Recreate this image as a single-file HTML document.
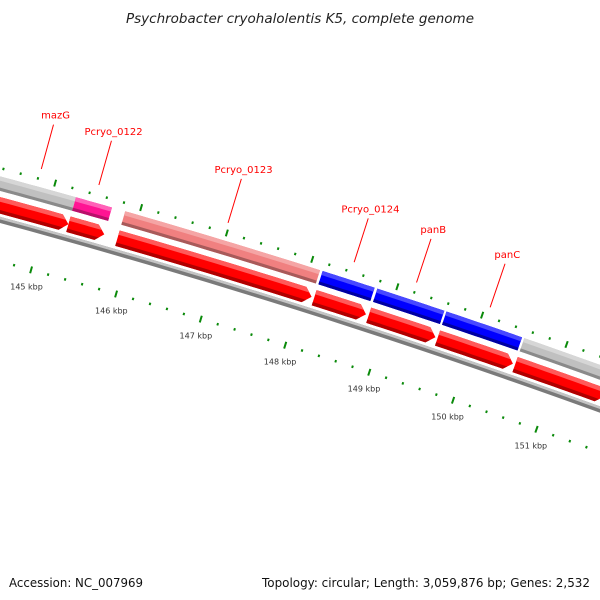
<!DOCTYPE html>
<html><head><meta charset="utf-8"><style>
html,body{margin:0;padding:0;background:#fff;}
svg{display:block;}
</style></head><body>
<svg id="map" width="600" height="600" viewBox="0 0 600 600" xmlns="http://www.w3.org/2000/svg">
<rect x="0" y="0" width="600" height="600" fill="#fff"/>
<text x="300" y="23" text-anchor="middle" font-family="DejaVu Sans, Liberation Sans, sans-serif" font-style="italic" font-size="13" fill="#222" textLength="348" lengthAdjust="spacingAndGlyphs">Psychrobacter cryohalolentis K5, complete genome</text>
<g id="plot"></g>
<text x="9" y="587" font-family="DejaVu Sans, Liberation Sans, sans-serif" font-size="12" fill="#111" textLength="134" lengthAdjust="spacingAndGlyphs">Accession: NC_007969</text>
<text x="590" y="587" text-anchor="end" font-family="DejaVu Sans, Liberation Sans, sans-serif" font-size="12" fill="#111" textLength="328" lengthAdjust="spacingAndGlyphs">Topology: circular; Length: 3,059,876 bp; Genes: 2,532</text>
</svg>
<script>
// ---- data ----
const geneStarts = [144350, 145267, 145840, 148150, 148794, 149609, 150530];
const geneEnds   = [145267, 145686, 148120, 148762, 149584, 150504, 151600];
const geneColors = ["gray", "pink", "salmon", "blue", "blue", "blue", "gray"];
const geneNames  = ["mazG", "Pcryo_0122", "Pcryo_0123", "Pcryo_0124", "panB", "panC", ""];
const tickKbp    = [143, 144, 145, 146, 147, 148, 149, 150, 151];
const tickLabels = ["143 kbp","144 kbp","145 kbp","146 kbp","147 kbp","148 kbp","149 kbp","150 kbp","151 kbp"];

// ---- geometry (axis functions) ----
const CX = -2002, CY = 7596, TH0 = 0.2707, KRAD = 0.01162e-3, BP0 = 145000;
function theta(bp){ return TH0 + (bp - BP0) * KRAD; }
function pt(r, th){ return [CX + r*Math.sin(th), CY - r*Math.cos(th)]; }
const R_BACK1 = 7640, R_BACK2 = 7646;
const R_CDS1 = 7649, R_CDS2 = 7665;
const R_GENE1 = 7671, R_GENE2 = 7685;
const R_TICK_UP = 7693, R_TICK_LO = 7603, R_TICK_LAB = 7586;
const R_LEAD1 = 7703, R_LEAD2 = 7749, R_LAB = 7753;
const PAL = {
  gray:   ["#c0c0c0", "#d6d6d6", "#8a8a8a"],
  pink:   ["#ff1493", "#ff62b8", "#b80f6a"],
  salmon: ["#f08080", "#f5a5a5", "#a85a5a"],
  blue:   ["#0000ff", "#4848ff", "#0000a0"],
  red:    ["#ff0000", "#ff5a5a", "#b00000"]
};
const NS = "http://www.w3.org/2000/svg";
const plot = document.getElementById("plot");
function mk(tag, attrs){ const e = document.createElementNS(NS, tag); for (const k in attrs) e.setAttribute(k, attrs[k]); return e; }
function arc(ra, rb, t1, t2, n){
  const pts = [];
  for (let i=0;i<=n;i++){ pts.push(pt(rb, t1 + (t2-t1)*i/n)); }
  for (let i=n;i>=0;i--){ pts.push(pt(ra, t1 + (t2-t1)*i/n)); }
  return pts.map(p=>p[0].toFixed(2)+","+p[1].toFixed(2)).join(" ");
}
function arrowStrip(ra, rb, R1, R2, t1, t2){
  const rm = (R1+R2)/2, half = (R2-R1)/2, head = 8/rm;
  const endAt = r => t2 - head*Math.abs(r-rm)/half;
  const n = 12, pts = [];
  for (let i=0;i<=n;i++) pts.push(pt(rb, t1 + (Math.min(endAt(rb),t2)-t1)*i/n));
  if (ra < rm && rb > rm) pts.push(pt(rm, t2));
  for (let i=n;i>=0;i--) pts.push(pt(ra, t1 + (Math.min(endAt(ra),t2)-t1)*i/n));
  return pts.map(p=>p[0].toFixed(2)+","+p[1].toFixed(2)).join(" ");
}

// backbone
const bt1 = theta(141000), bt2 = theta(155000);
let e = mk("polygon", {points: arc(R_BACK1, R_BACK2, bt1, bt2, 40), fill:"#7a7a7a"});


plot.appendChild(e);
e = mk("polygon", {points: arc(R_BACK2-2.5, R_BACK2, bt1, bt2, 40), fill:"#c4c4c4"});


plot.appendChild(e);

// genes and CDS arrows
for (let i=0;i<geneStarts.length;i++){
  const t1 = theta(geneStarts[i]), t2 = theta(geneEnds[i]);
  const c = PAL[geneColors[i]];
  const g = mk("g", {});
  
  
  const w = R_GENE2 - R_GENE1;
  g.appendChild(mk("polygon", {points: arc(R_GENE1, R_GENE2, t1, t2, 16), fill:c[0]}));
  g.appendChild(mk("polygon", {points: arc(R_GENE2 - w*0.3, R_GENE2, t1, t2, 16), fill:c[1]}));
  g.appendChild(mk("polygon", {points: arc(R_GENE1, R_GENE1 + w*0.22, t1, t2, 16), fill:c[2]}));
  plot.appendChild(g);

  const a = mk("g", {});
  
  
  const r = PAL.red, aw = R_CDS2 - R_CDS1;
  a.appendChild(mk("polygon", {points: arrowStrip(R_CDS1, R_CDS2, R_CDS1, R_CDS2, t1, t2), fill:r[0]}));
  a.appendChild(mk("polygon", {points: arrowStrip(R_CDS2 - aw*0.28, R_CDS2, R_CDS1, R_CDS2, t1, t2), fill:r[1]}));
  a.appendChild(mk("polygon", {points: arrowStrip(R_CDS1, R_CDS1 + aw*0.22, R_CDS1, R_CDS2, t1, t2), fill:r[2]}));
  plot.appendChild(a);

  if (geneNames[i]){
    const tm = theta((geneStarts[i]+geneEnds[i])/2);
    const p1 = pt(R_LEAD1, tm), p2 = pt(R_LEAD2, tm), pl = pt(R_LAB, tm);
    const ln = mk("line", {x1:p1[0], y1:p1[1], x2:p2[0], y2:p2[1], stroke:"#ff0000", "stroke-width":1});
    
    
    plot.appendChild(ln);
    const tx = mk("text", {x:pl[0]+1, y:pl[1]-2, "text-anchor":"middle", "font-family":"DejaVu Sans, Liberation Sans, sans-serif", "font-size":"10", fill:"#ff0000"});
    tx.textContent = geneNames[i];
    
    
    plot.appendChild(tx);
  }
}

// tick rings
function tick(r, bp, len, wdt, name){
  const t = theta(bp);
  const p1 = pt(r - len/2, t), p2 = pt(r + len/2, t);
  const l = mk("line", {x1:p1[0], y1:p1[1], x2:p2[0], y2:p2[1], stroke:"#0a8a0a", "stroke-width":wdt});
  
  
  plot.appendChild(l);
}
for (let i=0;i<tickKbp.length;i++){
  const base = tickKbp[i]*1000;
  for (let m=0;m<5;m++){
    const bp = base + m*200;
    const major = m===0;
    tick(R_TICK_UP, bp, major?7:2.5, 2, major?'upper-major-tick':'upper-minor-tick');
    tick(R_TICK_LO, bp, major?7:2.5, 2, major?'lower-major-tick':'lower-minor-tick');
  }
  const pl = pt(R_TICK_LAB, theta(base));
  const tx = mk("text", {x:pl[0], y:pl[1]+3, "text-anchor":"middle", "font-family":"DejaVu Sans, Liberation Sans, sans-serif", "font-size":"8", fill:"#333"});
  tx.textContent = tickLabels[i];
  
  
  plot.appendChild(tx);
}
</script>
</body></html>
